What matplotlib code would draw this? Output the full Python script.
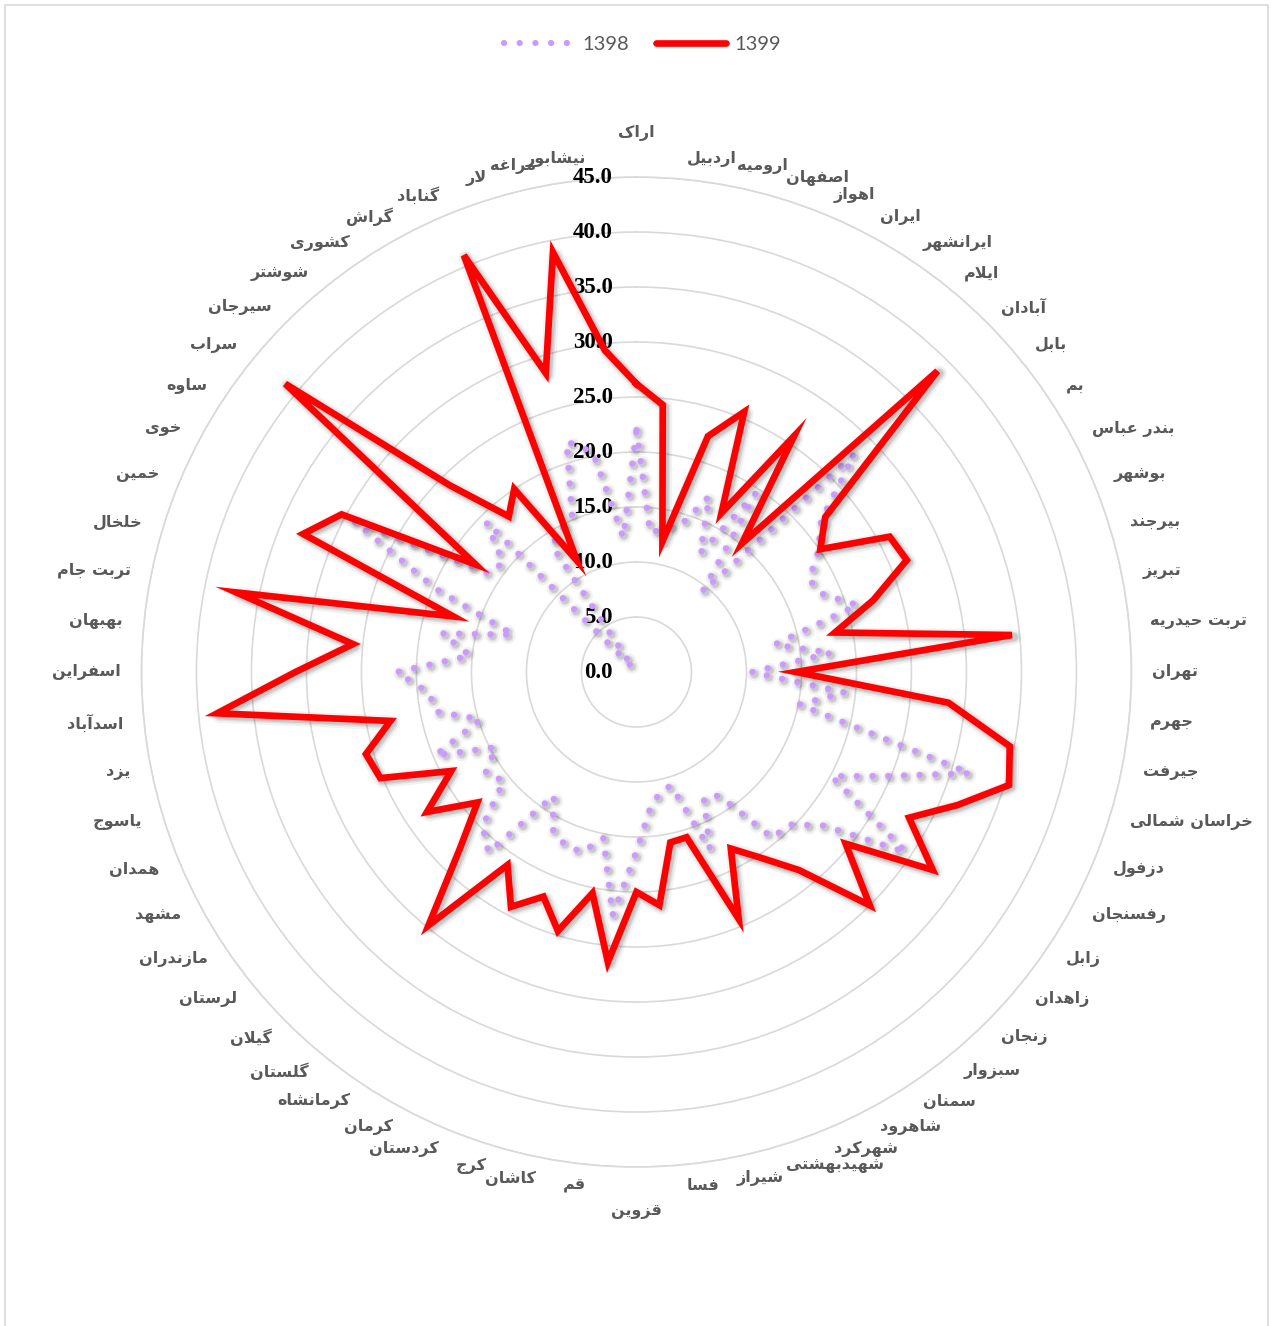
import numpy as np
import matplotlib
matplotlib.use('Agg')
import matplotlib.pyplot as plt
import matplotlib.patheffects as pe
from matplotlib.lines import Line2D
from matplotlib.patches import Rectangle

# categories, clockwise from the top
cities = ['اراک', 'اردبیل', 'ارومیه', 'اصفهان', 'اهواز', 'ایران', 'ایرانشهر', 'ایلام',
          'آبادان', 'بابل', 'بم', 'بندر عباس', 'بوشهر', 'بیرجند', 'تبریز', 'تربت حیدریه',
          'تهران', 'جهرم', 'جیرفت', 'خراسان شمالی', 'دزفول', 'رفسنجان', 'زابل', 'زاهدان',
          'زنجان', 'سبزوار', 'سمنان', 'شاهرود', 'شهرکرد', 'شهیدبهشتی', 'شیراز', 'فسا',
          'قزوین', 'قم', 'کاشان', 'کرج', 'کردستان', 'کرمان', 'کرمانشاه', 'گلستان',
          'گیلان', 'لرستان', 'مازندران', 'مشهد', 'همدان', 'یاسوج', 'یزد', 'اسدآباد',
          'اسفراین', 'بهبهان', 'تربت جام', 'خلخال', 'خمین', 'خوی', 'ساوه', 'سراب',
          'سیرجان', 'شوشتر', 'کشوری', 'گراش', 'گناباد', 'لار', 'مراغه', 'نیشابور']

v1398 = [22.0, 12.7, 13.4, 14.0, 17.3, 12.3, 19.5, 9.5, 28.0, 21.7,
         19.9, 17.8, 18.4, 21.0, 12.8, 17.8, 10.5, 19.0, 15.1, 31.7,
         24.7, 20.1, 29.5, 22.0, 19.6, 19.5, 13.5, 13.0, 17.4, 10.8,
         11.1, 12.5, 16.3, 22.2, 15.4, 17.1, 17.0, 16.2, 13.5, 21.2,
         19.8, 15.6, 16.5, 14.5, 19.8, 14.8, 18.5, 19.0, 21.8, 15.2,
         18.0, 11.7, 19.7, 29.1, 16.1, 15.7, 19.3, 0.5, 13.8, 14.6,
         15.3, 21.9, 20.4, 12.3]

v1399 = [26.2, 24.4, 12.1, 22.4, 25.6, 16.4, 25.8, 15.1, 38.7, 22.2,
         20.1, 26.1, 26.6, 22.5, 18.4, 34.3, 14.5, 28.5, 34.6, 35.4,
         31.6, 28.1, 32.4, 24.6, 30.0, 23.3, 20.3, 18.2, 24.3, 15.7,
         15.8, 21.3, 20.0, 26.5, 20.5, 24.6, 22.1, 24.2, 21.1, 29.8,
         22.7, 18.7, 22.9, 19.1, 25.2, 25.7, 22.8, 38.3, 31.0, 25.9,
         37.1, 17.4, 32.8, 30.4, 17.6, 41.3, 24.0, 18.3, 20.0, 11.5,
         41.0, 28.4, 38.9, 29.4]

ticks = [0, 5, 10, 15, 20, 25, 30, 35, 40, 45]

# presentation forms: isolated, final, initial, medial
FORMS = {
    'ا': ('\ufe8d', '\ufe8e', None, None),
    'آ': ('\ufe81', '\ufe82', None, None),
    'ب': ('\ufe8f', '\ufe90', '\ufe91', '\ufe92'),
    'ت': ('\ufe95', '\ufe96', '\ufe97', '\ufe98'),
    'ج': ('\ufe9d', '\ufe9e', '\ufe9f', '\ufea0'),
    'ح': ('\ufea1', '\ufea2', '\ufea3', '\ufea4'),
    'خ': ('\ufea5', '\ufea6', '\ufea7', '\ufea8'),
    'د': ('\ufea9', '\ufeaa', None, None),
    'ر': ('\ufead', '\ufeae', None, None),
    'ز': ('\ufeaf', '\ufeb0', None, None),
    'س': ('\ufeb1', '\ufeb2', '\ufeb3', '\ufeb4'),
    'ش': ('\ufeb5', '\ufeb6', '\ufeb7', '\ufeb8'),
    'ص': ('\ufeb9', '\ufeba', '\ufebb', '\ufebc'),
    'ع': ('\ufec9', '\ufeca', '\ufecb', '\ufecc'),
    'غ': ('\ufecd', '\ufece', '\ufecf', '\ufed0'),
    'ف': ('\ufed1', '\ufed2', '\ufed3', '\ufed4'),
    'ق': ('\ufed5', '\ufed6', '\ufed7', '\ufed8'),
    'ک': ('\ufb8e', '\ufb8f', '\ufb90', '\ufb91'),
    'گ': ('\ufb92', '\ufb93', '\ufb94', '\ufb95'),
    'ل': ('\ufedd', '\ufede', '\ufedf', '\ufee0'),
    'م': ('\ufee1', '\ufee2', '\ufee3', '\ufee4'),
    'ن': ('\ufee5', '\ufee6', '\ufee7', '\ufee8'),
    'ه': ('\ufee9', '\ufeea', '\ufeeb', '\ufeec'),
    'و': ('\ufeed', '\ufeee', None, None),
    'ی': ('\ufbfc', '\ufbfd', '\ufbfe', '\ufbff'),
}


def shape(word):
    # join persian letters and flip to visual order
    chars = list(word)
    out = []
    i = 0
    while i < len(chars):
        ch = chars[i]
        prev = chars[i - 1] if i > 0 else ''
        joined = prev in FORMS and FORMS[prev][2] is not None
        if ch == 'ل' and i + 1 < len(chars) and chars[i + 1] == 'ا':
            out.append('\ufefc' if joined else '\ufefb')
            i += 2
            continue
        if ch not in FORMS:
            out.append(ch)
            i += 1
            continue
        nxt = chars[i + 1] if i + 1 < len(chars) else ''
        iso, fin, ini, med = FORMS[ch]
        links_next = ini is not None and nxt in FORMS
        if joined and links_next:
            out.append(med)
        elif joined:
            out.append(fin)
        elif links_next:
            out.append(ini)
        else:
            out.append(iso)
        i += 1
    return ''.join(reversed(out))


purple = '#CC99FF'
red = '#FF0000'
gray_txt = '#595959'

n = len(cities)
theta = np.linspace(0, 2 * np.pi, n, endpoint=False)
theta_c = np.append(theta, theta[0])

fig = plt.figure(figsize=(12.71, 13.26), dpi=100)
fig.patches.append(Rectangle((5 / 1271, -0.01), 1263 / 1271, 1 - 5 / 1326 + 0.01,
                             transform=fig.transFigure, fill=False,
                             edgecolor='#d9d9d9', linewidth=1.2))

ax = fig.add_axes([0.1113, 0.1199, 0.7789, 0.7466], projection='polar')
ax.set_theta_zero_location('N')
ax.set_theta_direction(-1)
ax.set_ylim(0, 45)
ax.set_xticks([])
ax.set_yticks(ticks[1:])
ax.set_yticklabels([])
ax.yaxis.grid(True, color='#d9d9d9', linewidth=1.2)
ax.spines['polar'].set_color('#d9d9d9')
ax.spines['polar'].set_linewidth(1.2)
ax.set_facecolor('none')


def soft_shadow(lw):
    return [pe.SimpleLineShadow(offset=(1.5, -1.5), shadow_color='k', alpha=0.05,
                                linewidth=lw + 6, joinstyle='round'),
            pe.SimpleLineShadow(offset=(1.5, -1.5), shadow_color='k', alpha=0.07,
                                linewidth=lw + 3, joinstyle='round'),
            pe.SimpleLineShadow(offset=(1.5, -1.5), shadow_color='k', alpha=0.10,
                                linewidth=lw + 1, joinstyle='round'),
            pe.Normal()]


dot_style = (0, (0.01, 2.5))
ax.plot(theta_c, v1398 + v1398[:1], color=purple, lw=4.5, linestyle=dot_style,
        dash_capstyle='round', zorder=4, path_effects=soft_shadow(4.5))
ax.plot(theta_c, v1399 + v1399[:1], color=red, lw=4.8, solid_joinstyle='miter',
        zorder=5, path_effects=soft_shadow(4.8))

# radial scale labels left of the vertical axis
for t in ticks:
    ax.annotate(f'{t:.1f}', xy=(0, t), xytext=(-17, 0), textcoords='offset points',
                ha='right', va='center', fontsize=16.5, fontweight='bold',
                family='Liberation Serif', color='black', zorder=3)

# category labels around the outer ring
fig.canvas.draw()
cx, cy = ax.transData.transform((0, 0))
ring_px = ax.transData.transform((0, 45))[1] - cy
inv = ax.transData.inverted()
for th, name in zip(theta, cities):
    s, c = np.sin(th), np.cos(th)
    if abs(s) < 0.01:
        d, ha = ring_px + 44, 'center'
    else:
        d, ha = ring_px + 21, ('left' if s > 0 else 'right')
    pos = inv.transform((cx + d * s, cy + d * c))
    ax.text(pos[0], pos[1], shape(name), ha=ha, va='center', fontsize=11.5,
            fontweight='bold', family='DejaVu Sans', color=gray_txt, clip_on=False)

handles = [Line2D([], [], color=purple, lw=4.5, linestyle=dot_style, dash_capstyle='round'),
           Line2D([], [], color=red, lw=4.8, solid_capstyle='round')]
fig.legend(handles, ['1398', '1399'], loc='center', bbox_to_anchor=(0.5055, 0.9668),
           ncol=2, frameon=False, handlelength=3.5, handletextpad=0.4, columnspacing=1.3,
           prop={'family': 'Lato', 'size': 14.5}, labelcolor=gray_txt)

fig.savefig('out.png', dpi=100, facecolor='white')
